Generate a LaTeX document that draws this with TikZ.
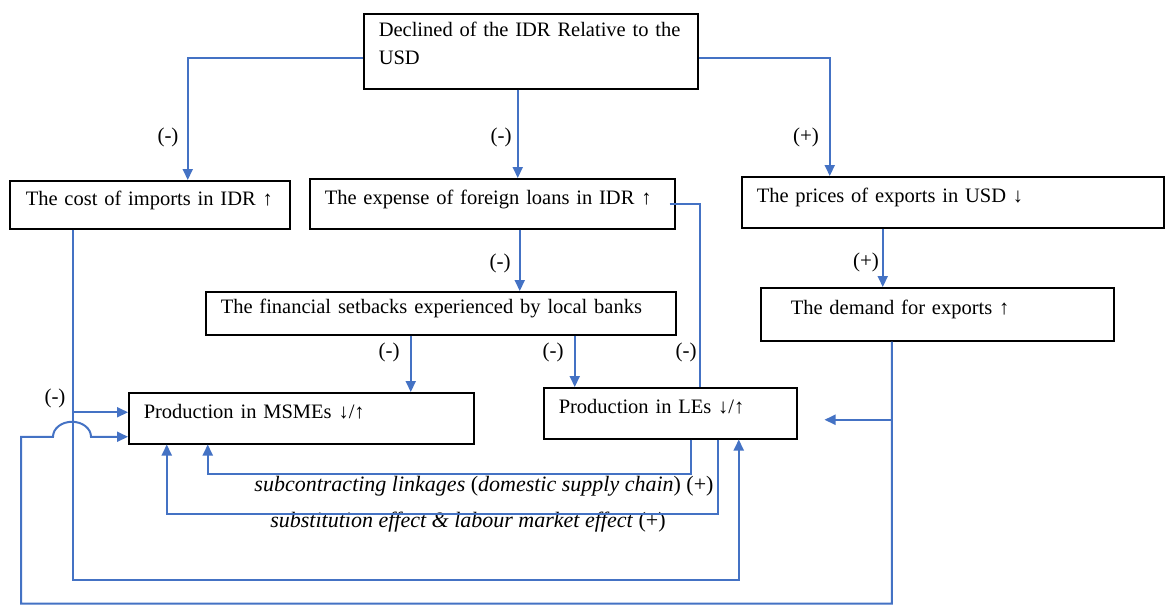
\documentclass[tikz,border=0pt]{standalone}
\usepackage{xcolor}
\usepackage{fontspec}
\setmainfont{Liberation Serif}
\usepackage{tikz}
\usetikzlibrary{arrows.meta,calc}

\definecolor{lineblue}{RGB}{68,114,196}

\tikzset{
  box/.style={draw, line width=1.5pt, anchor=north west, align=left, inner xsep=15pt, inner ysep=0pt, text depth=13pt, font=\fontsize{20.5}{28}\selectfont},
  link/.style={draw=lineblue, line width=2pt},
  arr/.style={link, -{Triangle[length=11pt,width=10pt]}},
  sign/.style={inner sep=0pt, font=\fontsize{21}{24}\selectfont},
  note/.style={inner sep=0pt, font=\fontsize{22}{24}\selectfont},
}

\begin{document}
\begin{tikzpicture}[x=1pt,y=1pt,yscale=-1,xscale=1]
\useasboundingbox (0,0) rectangle (1167,606);

% Text Node
\node[box, text depth=44pt, text width=304pt, minimum height=75pt] (decl) at (363,13) {Declined of the IDR Relative to the\\USD};
% Text Node
\node[box, inner xsep=16pt, text width=248pt, minimum height=48pt] (imports) at (9,180) {The cost of imports in IDR ↑};
% Text Node
\node[box, text width=335pt, minimum height=50pt] (expense) at (309,178) {The expense of foreign loans in IDR ↑};
% Text Node
\node[box, text width=392pt, minimum height=51pt] (prices) at (741,176) {The prices of exports in USD ↓};
% Text Node
\node[box, text width=440pt, minimum height=43pt] (banks) at (205,291) {The financial setbacks experienced by local banks};
% Text Node
\node[box, inner xsep=30pt, text width=293pt, minimum height=53pt] (demand) at (760,287) {The demand for exports ↑};
% Text Node
\node[box, text width=315pt, minimum height=51pt] (msme) at (128,392) {Production in MSMEs ↓/↑};
% Text Node
\node[box, text width=223pt, minimum height=51pt] (les) at (543,387) {Production in LEs ↓/↑};

% Signs
\node[sign] (s1) at (168,137) {(-)};
\node[sign] (s2) at (501,137) {(-)};
\node[sign] (s3) at (806,137) {(+)};
\node[sign] (s4) at (500,263) {(-)};
\node[sign] (s5) at (866,262) {(+)};
\node[sign] (s6) at (389,352) {(-)};
\node[sign] (s7) at (553,352) {(-)};
\node[sign] (s8) at (686,352) {(-)};
\node[sign] (s9) at (55,398) {(-)};

% Text Node
\node[note] (subc) at (484,486) {\textit{subcontracting linkages} (\textit{domestic supply chain}) (+)};
% Text Node
\node[note] (subst) at (468,522) {\textit{substitution effect \& labour market effect} (+)};

% end points
\coordinate (e2) at ($(expense.north)+(25.5,0)$);
\coordinate (p2) at ($(prices.north)+(-123,0)$);
\coordinate (b2) at ($(banks.north)+(79,0)$);
\coordinate (d2) at ($(demand.north)+(-54.5,0)$);
\coordinate (m2) at ($(msme.north)+(109.5,0)$);
\coordinate (l2) at ($(les.north)+(-95.5,0)$);
\coordinate (l3) at ($(les.north)+(29.5,0)$);
\coordinate (l4) at ($(les.south)+(20.5,0)$);
\coordinate (l5) at ($(les.south)+(47.5,0)$);
\coordinate (l6) at ($(les.south)+(68.5,0)$);
\coordinate (m3) at ($(msme.south)+(-93.5,0)$);
\coordinate (m4) at ($(msme.south)+(-134.5,0)$);
\coordinate (m5) at ($(msme.west)+(0,-6)$);
\coordinate (m6) at ($(msme.west)+(0,18.5)$);
\coordinate (i2) at ($(imports.south)+(-77,0)$);
\coordinate (dm) at ($(demand.south)+(-45.5,0)$);
\coordinate (lr) at ($(les.east)+(27,6.5)$);

%Straight Lines
\draw[arr] ($(decl.west)+(0,7)$) -| ($(imports.north)+(38,0)$);
\draw[arr] (decl.south -| e2) -- (e2);
\draw[arr] ($(decl.east)+(0,7)$) -| (p2);
\draw[arr] (expense.south -| b2) -- (b2);
\draw[arr] (prices.south -| d2) -- (d2);
\draw[arr] (banks.south -| m2) -- (m2);
\draw[arr] (banks.south -| l2) -- (l2);
\draw[link] ($(expense.east)+(-6,0)$) -| (l3);

%Feedback Lines
\draw[arr] (l4) -- ++(0,34) -| (m3);
\draw[arr] (l5) -- ++(0,74) -| (m4);
\draw[arr] (i2) -- ++(0,350) -| (l6);
\draw[arr] (i2 |- m5) -- (m5);
\draw[arr] (dm) -- ++(0,262) -| ($(m6)+(-107,0)$) -- ($(m6)+(-75,0)$)
  arc[start angle=180, end angle=360, x radius=19, y radius=15] -- (m6);
\draw[arr] (dm |- lr) -- (lr);

\end{tikzpicture}
\end{document}
